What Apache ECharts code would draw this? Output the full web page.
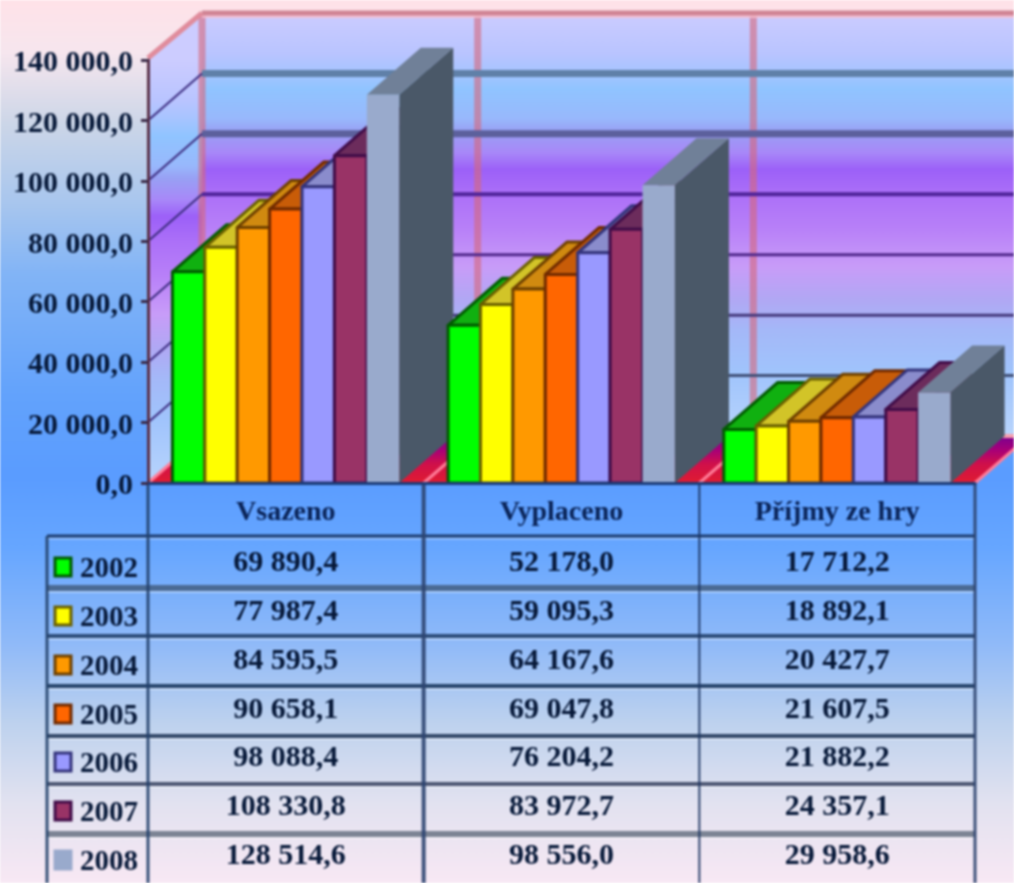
<!DOCTYPE html>
<html>
<head>
<meta charset="utf-8">
<title>Vsazeno, vyplaceno, příjmy ze hry</title>
<script src="https://cdn.jsdelivr.net/npm/echarts@6/dist/echarts.min.js"></script>
<style>
    html, body { margin: 0; padding: 0; }
    #chart { width: 1014px; height: 883px; filter: blur(0.8px); }
</style>
</head>
<body>
<div id="chart"></div>
<script>
// Chart data
const categories = ['Vsazeno', 'Vyplaceno', 'Příjmy ze hry'];
const years = ['2002', '2003', '2004', '2005', '2006', '2007', '2008'];
const values2002 = [69890.4, 52178.0, 17712.2];
const values2003 = [77987.4, 59095.3, 18892.1];
const values2004 = [84595.5, 64167.6, 20427.7];
const values2005 = [90658.1, 69047.8, 21607.5];
const values2006 = [98088.4, 76204.2, 21882.2];
const values2007 = [108330.8, 83972.7, 24357.1];
const values2008 = [128514.6, 98556.0, 29958.6];
const yTicks = [0, 20000, 40000, 60000, 80000, 100000, 120000, 140000];

const valuesByYear = [values2002, values2003, values2004, values2005, values2006, values2007, values2008];

// Colours per year: front, top, side, border
const fronts = ['#00ff00', '#ffff00', '#ff9900', '#ff6600', '#9999ff', '#993366', '#99aacc'];
const tops = ['#10b010', '#d2c428', '#d08a10', '#c85c08', '#8a8ccc', '#6c2c5c', '#708098'];
const sides = ['#009000', '#909000', '#905000', '#903000', '#505090', '#501c40', '#4a5868'];
const borders = ['#005a00', '#6a6000', '#6e4000', '#702a00', '#34347c', '#400c48', null];

// Layout of the fake 3D box, in pixels
const gridLeft = 148;
const gridTop = 60;
const gridWidth = 827;
const gridBottom = 483;
const depthX = 54;
const depthY = -47;
const barWidth = 32.4;
const font = '"Liberation Serif", serif';
const textColor = '#061838';

const gradient = (x, y, x2, y2, stops, global) => new echarts.graphic.LinearGradient(
    x, y, x2, y2,
    stops.map(stop => ({ offset: stop[0], color: stop[1] })),
    global
);

const chartDom = document.getElementById('chart');
const chart = echarts.init(chartDom);

const formatNumber = (value) => {
    const parts = value.toFixed(1).split('.');
    return parts[0].replace(/\B(?=(\d{3})+$)/g, ' ') + ',' + parts[1];
};

const pageStops = [
    [0, '#ffe2e8'], [0.06, '#f6e6ee'], [0.14, '#ccd6e8'], [0.23, '#a8c6ee'], [0.31, '#82b4f6'],
    [0.45, '#62a2fc'], [0.54, '#5a9cff'], [0.62, '#66a6ff'], [0.73, '#90baf8'], [0.82, '#bed2ee'],
    [0.91, '#e2e2f0'], [1, '#f8e8f4']
];
const wallStops = [
    [0, '#ccccff'], [0.1, '#b8c4ff'], [0.14, '#a6c4ff'], [0.18, '#90c4ff'], [0.25, '#98b8fc'],
    [0.28, '#98a0f4'], [0.33, '#a888f8'], [0.37, '#9c60f8'], [0.43, '#ac70f8'], [0.51, '#b880f8'],
    [0.6, '#c89cf8'], [0.68, '#b0a8f4'], [0.75, '#a4b8f8'], [0.85, '#a0c4fc'], [1, '#b8d4fc']
];

// Back wall, side wall, floor and the pink frame
const backTop = gridTop + depthY;
const backBottom = gridBottom + depthY;
const splitX = [0, 1, 2, 3].map(i => gridLeft + i * gridWidth / 3);

const boxGraphics = [
    {
        type: 'polygon', silent: true,
        shape: { points: [[gridLeft + depthX, backTop], [1014, backTop], [1014, backBottom], [gridLeft + depthX, backBottom]] },
        style: { fill: gradient(0, backTop, 0, backBottom, wallStops, true) }
    },
    {
        type: 'polygon', silent: true,
        shape: { points: [[gridLeft, gridTop], [gridLeft + depthX, backTop], [gridLeft + depthX, backBottom], [gridLeft, gridBottom]] },
        style: { fill: gradient(0, gridTop, 0, gridBottom, wallStops, true) }
    },
    {
        type: 'polygon', silent: true,
        shape: { points: [[gridLeft, gridBottom], [gridLeft + depthX, backBottom], [gridLeft + gridWidth + depthX, backBottom], [gridLeft + gridWidth, gridBottom]] },
        style: { fill: gradient(0, backBottom, 0, gridBottom, [[0, '#7a0090'], [0.3, '#a80078'], [0.6, '#d0104a'], [1, '#e01c30']], true) }
    }
];
splitX.forEach((x) => {
    boxGraphics.push({
        type: 'line', silent: true,
        shape: { x1: x + depthX, y1: backTop, x2: x + depthX, y2: backBottom },
        style: { stroke: 'rgba(214, 104, 124, 0.6)', lineWidth: 7 }
    });
    boxGraphics.push({
        type: 'line', silent: true,
        shape: { x1: x, y1: gridBottom, x2: x + depthX, y2: backBottom },
        style: { stroke: '#ff7c98', lineWidth: 3 }
    });
});
boxGraphics.push(
    {
        type: 'line', silent: true,
        shape: { x1: gridLeft + depthX, y1: backBottom, x2: 1014, y2: backBottom },
        style: { stroke: '#f4a0b0', lineWidth: 4 }
    },
    {
        type: 'line', silent: true,
        shape: { x1: gridLeft + depthX, y1: backTop + 3, x2: 1014, y2: backTop + 3 },
        style: { stroke: 'rgba(250, 190, 205, 0.8)', lineWidth: 4 }
    },
    {
        type: 'line', silent: true,
        shape: { x1: gridLeft + depthX, y1: backTop, x2: 1014, y2: backTop },
        style: { stroke: '#d08494', lineWidth: 5 }
    },
    {
        type: 'line', silent: true,
        shape: { x1: gridLeft, y1: gridTop - 2, x2: gridLeft + depthX, y2: backTop },
        style: { stroke: '#e08c9c', lineWidth: 5 }
    }
);

// Data table under the plot
const tableLines = [
    { y: 536, width: 3, color: '#1c3c70' },
    { y: 588, width: 6, color: '#4a6a94' },
    { y: 636, width: 4, color: '#2e4e7c' },
    { y: 686, width: 4, color: '#28466e' },
    { y: 736, width: 4, color: '#34496a' },
    { y: 784, width: 4, color: '#4e5874' },
    { y: 834, width: 6, color: '#7c8494' }
];
const rowCenters = [563, 612, 661, 710, 758, 807, 856];
const tableLeft = 47;
const tableBottom = 883;

const tableGraphics = [];
tableLines.forEach((line) => {
    tableGraphics.push({
        type: 'line', silent: true,
        shape: { x1: tableLeft, y1: line.y + line.width / 2 + 1, x2: gridLeft + gridWidth, y2: line.y + line.width / 2 + 1 },
        style: { stroke: 'rgba(255, 255, 255, 0.35)', lineWidth: 2 }
    });
    tableGraphics.push({
        type: 'line', silent: true,
        shape: { x1: tableLeft, y1: line.y, x2: gridLeft + gridWidth, y2: line.y },
        style: { stroke: line.color, lineWidth: line.width }
    });
});
[
    { x: tableLeft, top: 536, width: 3, color: '#24426c' },
    { x: splitX[0], top: gridBottom, width: 3, color: '#22406c' },
    { x: splitX[1], top: gridBottom, width: 4, color: '#2c4470' },
    { x: splitX[2], top: gridBottom, width: 2, color: '#1c3460' },
    { x: splitX[3], top: gridBottom, width: 3, color: '#2c426e' }
].forEach((line) => {
    tableGraphics.push({
        type: 'line', silent: true,
        shape: { x1: line.x, y1: line.top, x2: line.x, y2: tableBottom },
        style: { stroke: line.color, lineWidth: line.width, opacity: 0.9 }
    });
});
years.forEach((year, y) => {
    const center = rowCenters[y];
    tableGraphics.push({
        type: 'rect', silent: true,
        shape: { x: 55, y: center - 5, width: 16, height: 18 },
        style: { fill: fronts[y], stroke: borders[y] || fronts[y], lineWidth: 3 }
    });
    tableGraphics.push({
        type: 'text', silent: true, x: 80, y: center + 7,
        style: { text: year, font: 'bold 29px ' + font, fill: textColor, verticalAlign: 'middle' }
    });
    categories.forEach((category, c) => {
        tableGraphics.push({
            type: 'text', silent: true, x: splitX[c] + gridWidth / 6, y: center,
            style: { text: formatNumber(valuesByYear[y][c]), font: 'bold 30px ' + font, fill: textColor, align: 'center', verticalAlign: 'middle' }
        });
    });
});

// Wall grid lines: one per tick, widths follow the picture
const gridWidths = [0, 3, 3, 3, 4, 7, 7, 0];
const gridColors = ['', '#405078', '#44387c', '#50288c', '#50249a', '#5c609c', '#6080a8', ''];

const renderWallLine = (params, api) => {
    const i = params.dataIndex;
    const y = api.coord([0, api.value(1)])[1];
    const x0 = params.coordSys.x;
    if (!gridWidths[i]) return { type: 'group', children: [] };
    return {
        type: 'group',
        children: [
            {
                type: 'line',
                shape: { x1: x0 + depthX, y1: y + depthY, x2: 1014, y2: y + depthY },
                style: { stroke: gridColors[i], lineWidth: gridWidths[i] }
            },
            {
                type: 'line',
                shape: { x1: x0, y1: y, x2: x0 + depthX, y2: y + depthY },
                style: { stroke: '#3c2c80', lineWidth: 2 }
            }
        ]
    };
};

// One fake 3D bar: side, top, then front
const renderBar = (params, api) => {
    const c = api.value(0);
    const y = api.value(2);
    const topLeft = api.coord([c, api.value(1)]);
    const base = api.coord([c, 0]);
    const left = topLeft[0] + (y - years.length / 2) * barWidth;
    const right = left + barWidth;
    const lineStyle = borders[y] ? { stroke: borders[y], lineWidth: 3, lineJoin: 'round' } : { stroke: null };
    return {
        type: 'group',
        children: [
            {
                type: 'polygon',
                shape: { points: [[right, topLeft[1]], [right + depthX, topLeft[1] + depthY], [right + depthX, base[1] + depthY], [right, base[1]]] },
                style: { fill: sides[y] }
            },
            {
                type: 'polygon',
                shape: { points: [[left, topLeft[1]], [left + depthX, topLeft[1] + depthY], [right + depthX, topLeft[1] + depthY], [right, topLeft[1]]] },
                style: Object.assign({ fill: tops[y] }, lineStyle)
            },
            {
                type: 'rect',
                shape: { x: left, y: topLeft[1], width: barWidth, height: base[1] - topLeft[1] },
                style: Object.assign({ fill: fronts[y] }, lineStyle)
            }
        ]
    };
};

const barSeries = categories.map((category, c) => ({
    name: category,
    type: 'custom',
    renderItem: renderBar,
    encode: { x: 0, y: 1 },
    z: 3,
    data: years.map((year, y) => [c, valuesByYear[y][c], y])
}));

const option = {
    animation: false,
    backgroundColor: gradient(0, 0, 0, 1, pageStops, false),
    grid: { left: gridLeft, top: gridTop, width: gridWidth, bottom: 883 - gridBottom, containLabel: false },
    xAxis: {
        type: 'category',
        data: categories,
        z: 5,
        axisTick: { show: false },
        axisLine: { lineStyle: { color: '#1c3c78', width: 3 } },
        axisLabel: { margin: 16, fontFamily: font, fontWeight: 'bold', fontSize: 28, color: '#0a2458' }
    },
    yAxis: {
        type: 'value',
        min: 0,
        max: 140000,
        interval: 20000,
        z: 5,
        splitLine: { show: false },
        axisLine: { show: true, lineStyle: { color: '#5a3048', width: 3 } },
        axisTick: { show: true, length: 7, lineStyle: { color: '#3a2a48', width: 3 } },
        axisLabel: {
            margin: 15,
            verticalAlign: 'top',
            lineHeight: 7,
            fontFamily: font,
            fontWeight: 'bold',
            fontSize: 30,
            color: textColor,
            formatter: (value) => formatNumber(value)
        }
    },
    graphic: { elements: boxGraphics.concat(tableGraphics) },
    series: [
        {
            name: 'grid',
            type: 'custom',
            renderItem: renderWallLine,
            encode: { x: 0, y: 1 },
            z: 1,
            data: yTicks.map(tick => [0, tick])
        }
    ].concat(barSeries)
};
chart.setOption(option);

window.addEventListener('resize', () => {
    chart.resize();
}, true);
</script>
</body>
</html>
